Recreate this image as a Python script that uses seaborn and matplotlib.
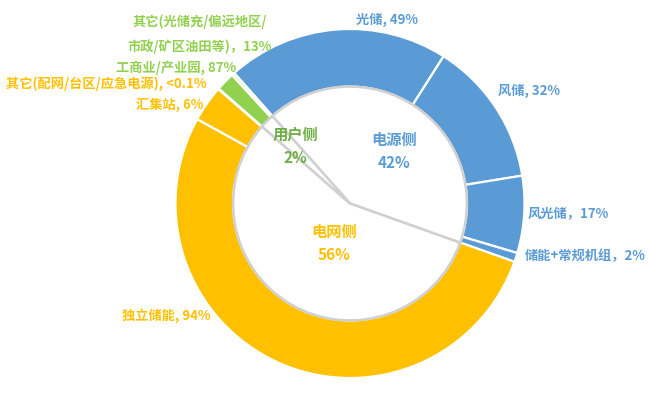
"""
Energy-storage application mix — nested donut (side share inside, scenario share outside).
"""
import matplotlib
matplotlib.use("Agg")
import matplotlib.pyplot as plt
import seaborn as sns

# ── Data ──────────────────────────────────────────────────────────────────────
SIDES       = ["电源侧", "电网侧", "用户侧"]
SIDE_PCT    = [42, 56, 2]

SOURCE_CATS = ["光储", "风储", "风光储", "储能+常规机组"]
SOURCE_PCT  = [49, 32, 17, 2]
GRID_CATS   = ["独立储能", "汇集站", "其它(配网/台区/应急电源)"]
GRID_PCT    = [94, 6, 0.1]
USER_CATS   = ["工商业/产业园", "其它(光储充/偏远地区/\n市政/矿区油田等)"]
USER_PCT    = [87, 13]

OUTER_LABELS = ["光储, 49%", "风储, 32%", "风光储，17%", "储能+常规机组，2%",
                "独立储能, 94%", "汇集站, 6%", "其它(配网/台区/应急电源), <0.1%",
                "工商业/产业园, 87%", "其它(光储充/偏远地区/\n市政/矿区油田等)，13%"]

# ── Style ─────────────────────────────────────────────────────────────────────
BLUE, GOLD, GREEN, DKGREEN = "#5B9BD5", "#FFC000", "#92D050", "#70AD47"
sns.set_theme(style="white")
plt.rcParams["font.family"] = ["Noto Sans CJK SC", "DejaVu Sans"]

W, H = 650, 396
CX, CY, R = 350, 203.5, 174.5   # pie centre / outer radius in pixels


def px(x, y):
    """pixel (from top-left) -> data coords, 1 unit = outer radius"""
    return (x - CX) / R, (CY - y) / R


fig = plt.figure(figsize=(W / 100, H / 100), dpi=100)
ax = fig.add_axes([0, 0, 1, 1])

# outer ring
outer_vals = ([SIDE_PCT[0] * p / 100 for p in SOURCE_PCT]
              + [SIDE_PCT[1] * p / 100 for p in GRID_PCT]
              + [SIDE_PCT[2] * p / 100 for p in USER_PCT])
outer_cols = ([BLUE] * len(SOURCE_PCT) + [GOLD] * len(GRID_PCT)
              + [GREEN, "#C5E5A5"])
START = 131.6
ax.pie(outer_vals, radius=1.0, colors=outer_cols, startangle=START,
       counterclock=False,
       wedgeprops=dict(width=0.33, edgecolor="white", linewidth=1.6))

# inner pie (white fill, grey edges)
ax.pie(SIDE_PCT, radius=0.67, colors=["white"] * 3, startangle=START,
       counterclock=False,
       wedgeprops=dict(edgecolor="#D0D0D0", linewidth=1.8))

# ── Labels ────────────────────────────────────────────────────────────────────
outer_pos = [(387, 20), (529, 91), (568, 213), (585, 256),
             (166, 316), (170, 105), (106, 84), (176, 68), (200, 34)]
outer_txtcol = [BLUE] * 4 + [GOLD] * 3 + [GREEN] * 2
for lab, (x, y), c in zip(OUTER_LABELS, outer_pos, outer_txtcol):
    ax.text(*px(x, y), lab, color=c, fontsize=9.5, fontweight="bold",
            ha="center", va="center", linespacing=1.9)

inner_pos = [(394, 151), (334, 243), (295, 146)]
inner_col = [BLUE, GOLD, DKGREEN]
for side, pct, (x, y), c in zip(SIDES, SIDE_PCT, inner_pos, inner_col):
    ax.text(*px(x, y), f"{side}\n{pct}%", color=c, fontsize=11,
            fontweight="bold", ha="center", va="center", linespacing=1.55)

ax.set_xlim((0 - CX) / R, (W - CX) / R)
ax.set_ylim((CY - H) / R, CY / R)
ax.set_aspect("equal")
ax.axis("off")

fig.savefig("out.png", dpi=100, facecolor="white")
plt.close(fig)
